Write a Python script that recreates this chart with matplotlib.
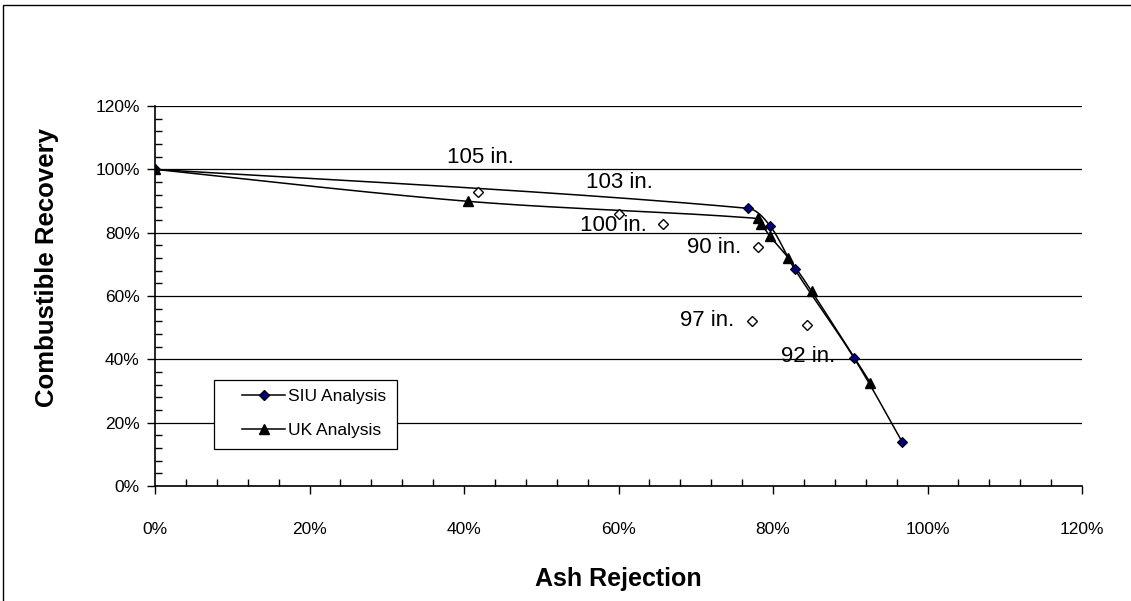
import matplotlib
matplotlib.use('Agg')
import matplotlib.pyplot as plt
import numpy as np
from matplotlib.patches import Rectangle
from matplotlib.ticker import MultipleLocator, PercentFormatter

plt.rcParams['font.family'] = ['Liberation Sans', 'DejaVu Sans']

# Ash rejection (%) / combustible recovery (%)
siu_x = [0.0, 76.7, 79.6, 82.8, 90.5, 96.7]
siu_y = [100.0, 87.7, 82.2, 68.5, 40.4, 14.0]

uk_x = [0.0, 40.5, 78.0, 78.5, 79.6, 82.0, 85.0, 92.6]
uk_y = [100.0, 89.9, 84.5, 82.8, 78.9, 72.0, 61.5, 32.6]

# single column tests (open diamonds)
col_x = [41.8, 60.0, 65.7, 78.0, 77.3, 84.4]
col_y = [92.9, 85.8, 82.7, 75.6, 52.2, 50.8]

note_text = ['105 in.', '103 in.', '100 in.', '90 in.', '97 in.', '92 in.']

# rough px per data unit, only used to shape the smoothed curve
PX_X, PX_Y = 7.725, 3.167


def smooth(xs, ys, n=40):
    # Excel-like smoothed line: cubic Bezier, tangents split by chord length
    p = np.column_stack([np.asarray(xs) * PX_X, np.asarray(ys) * PX_Y])
    d = np.hypot(*np.diff(p, axis=0).T)
    out = [p[0]]
    t = np.linspace(0, 1, n)[1:, None]
    for i in range(len(p) - 1):
        p0 = p[i - 1] if i > 0 else p[i]
        p3 = p[i + 2] if i + 2 < len(p) else p[i + 1]
        dp = d[i - 1] if i > 0 else d[i]
        dn = d[i + 1] if i + 1 < len(d) else d[i]
        c1 = p[i] + (p[i + 1] - p0) * d[i] / (dp + d[i]) / 3
        c2 = p[i + 1] - (p3 - p[i]) * d[i] / (d[i] + dn) / 3
        seg = ((1 - t) ** 3 * p[i] + 3 * (1 - t) ** 2 * t * c1
               + 3 * (1 - t) * t ** 2 * c2 + t ** 3 * p[i + 1])
        out.extend(seg)
    out = np.array(out)
    return out[:, 0] / PX_X, out[:, 1] / PX_Y


fig = plt.figure(figsize=(11.31, 6.01), dpi=100)
ax = fig.add_axes([155 / 1131, 1 - 486 / 601, 927 / 1131, 380 / 601])

# outer chart border
fig.add_artist(Rectangle((3 / 1131, -0.1), 1.2, 1.1 - 5 / 601, transform=fig.transFigure,
                         fill=False, edgecolor='black', linewidth=1.0))

sx, sy = smooth(siu_x, siu_y)
ux, uy = smooth(uk_x, uk_y)
ax.plot(sx, sy, color='black', lw=1.1, zorder=3)
ax.plot(ux, uy, color='black', lw=1.1, zorder=3)
ax.plot(siu_x, siu_y, ls='none', marker='D', ms=5.0, mfc='#000080', mec='black', mew=0.8, zorder=4)
ax.plot(uk_x, uk_y, ls='none', marker='^', ms=7.5, mfc='black', mec='black', zorder=4)
ax.plot(col_x, col_y, ls='none', marker='D', ms=5.0, mfc='white', mec='black', mew=1.0, zorder=4)

# legend proxies
ax.plot([], [], color='black', lw=1.1, marker='D', ms=5.0, mfc='#000080', mec='black', label='SIU Analysis')
ax.plot([], [], color='black', lw=1.1, marker='^', ms=7.5, mfc='black', mec='black', label='UK Analysis')

note_pos = [(42.1, 103.6), (60.1, 95.7), (59.3, 82.4), (72.4, 75.2), (71.5, 52.4), (84.5, 40.8)]
for s, (x, y) in zip(note_text, note_pos):
    ax.text(x, y, s, fontsize=16, ha='center', va='center', zorder=2)

ax.set_xlim(0, 120)
ax.set_ylim(0, 120)
ax.xaxis.set_major_locator(MultipleLocator(20))
ax.xaxis.set_minor_locator(MultipleLocator(4))
ax.yaxis.set_major_locator(MultipleLocator(20))
ax.yaxis.set_minor_locator(MultipleLocator(4))
ax.xaxis.set_major_formatter(PercentFormatter(decimals=0))
ax.yaxis.set_major_formatter(PercentFormatter(decimals=0))
ax.tick_params(which='major', direction='out', length=6, width=1, labelsize=12.5)
ax.tick_params(which='minor', direction='in', length=5, width=1)
ax.tick_params(axis='x', which='major', pad=20)
ax.tick_params(axis='y', which='major', pad=5)

ax.grid(True, axis='y', which='major', color='black', lw=0.9)
ax.set_axisbelow(True)
for side in ('top', 'right'):
    ax.spines[side].set_visible(False)
for side in ('left', 'bottom'):
    ax.spines[side].set_linewidth(1.2)

ax.set_xlabel('Ash Rejection', fontsize=18, fontweight='bold')
ax.set_ylabel('Combustible Recovery', fontsize=18.5, fontweight='bold')
ax.xaxis.set_label_coords(0.5, -0.212)
ax.yaxis.set_label_coords(-0.104, 0.574)

# legend: Excel-style box with wide left margin
ax.add_patch(Rectangle((0.0636, 0.0974), 0.197, 0.1816, transform=ax.transAxes,
                       facecolor='white', edgecolor='black', lw=0.9, zorder=4.5))
leg = ax.legend(loc='upper left', bbox_to_anchor=(0.0939, 0.256), fontsize=12.5,
                frameon=False, borderpad=0, borderaxespad=0,
                handlelength=2.5, handletextpad=0.15, labelspacing=1.08)
leg.set_zorder(5)

fig.savefig('out.png', dpi=100)
